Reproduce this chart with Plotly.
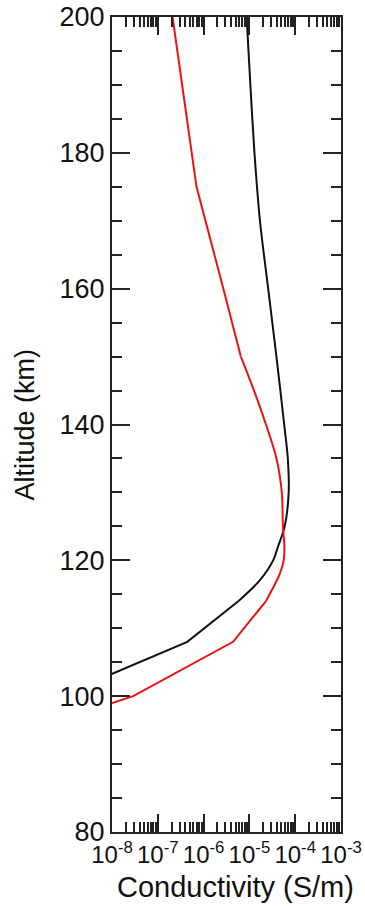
import plotly.graph_objects as go

# Altitude profiles of two conductivity components (S/m)
alt_black = [200, 190, 180, 170, 160, 150, 140, 135, 130, 125, 122, 120, 117, 114, 108, 103]
sig_black = [8.7e-6, 1.05e-5, 1.29e-5, 1.70e-5, 2.57e-5, 3.89e-5, 5.75e-5, 6.9e-5, 7.2e-5,
             5.9e-5, 4.2e-5, 3.3e-5, 1.66e-5, 5.8e-6, 4.4e-7, 7.9e-9]

alt_red = [200, 175, 160, 150, 145, 140, 135, 130, 125, 122, 120, 118, 114, 108, 100, 99]
sig_red = [2.1e-7, 7.0e-7, 2.7e-6, 6.5e-6, 1.26e-5, 2.3e-5, 3.9e-5, 5.1e-5, 5.4e-5,
           5.8e-5, 5.6e-5, 4.6e-5, 2.3e-5, 4.4e-6, 2.9e-8, 1.0e-8]

# Index ranges drawn as (start, end, shape); smooth sections use a spline
black_segments = [(0, 13, "spline"), (13, 15, "linear")]
red_segments = [(0, 3, "linear"), (3, 12, "spline"), (12, 15, "linear")]

x_tickvals = [1e-8, 1e-7, 1e-6, 1e-5, 1e-4, 1e-3]
x_ticktext = ["10<sup>-8</sup>", "10<sup>-7</sup>", "10<sup>-6</sup>",
              "10<sup>-5</sup>", "10<sup>-4</sup>", "10<sup>-3</sup>"]
y_tickvals = [80, 100, 120, 140, 160, 180, 200]

FONT = "Liberation Sans, Arial, Helvetica, sans-serif"

fig = go.Figure()


def add_profile(sig, alt, segments, color):
    for i0, i1, shape in segments:
        fig.add_trace(go.Scatter(
            x=sig[i0:i1 + 1], y=alt[i0:i1 + 1], mode="lines",
            line=dict(color=color, width=2, shape=shape, smoothing=0.9),
            showlegend=False, hoverinfo="x+y"))


add_profile(sig_black, alt_black, black_segments, "#111111")
add_profile(sig_red, alt_red, red_segments, "#ee1111")

axis_common = dict(
    showline=True, linewidth=2, linecolor="#222222", mirror="ticks",
    ticks="inside", ticklen=18, tickwidth=2, tickcolor="#222222",
    showgrid=False, zeroline=False, automargin=False,
)

fig.update_xaxes(
    type="log", range=[-8, -3],
    tickvals=x_tickvals, ticktext=x_ticktext, tickangle=0,
    tickfont=dict(family=FONT, size=24, color="#111111"),
    minor=dict(ticks="inside", ticklen=10, tickwidth=2, tickcolor="#222222",
               dtick="D1", showgrid=False),
    **axis_common,
)
fig.update_yaxes(
    range=[80, 200], tickvals=y_tickvals,
    tickfont=dict(family=FONT, size=27, color="#111111"),
    minor=dict(ticks="inside", ticklen=10, tickwidth=2, tickcolor="#222222",
               dtick=5, showgrid=False),
    **axis_common,
)

fig.add_annotation(text="Conductivity (S/m)", xref="paper", yref="paper",
                   x=(235 - 112) / 229, y=(832 - 887) / 815,
                   xanchor="center", yanchor="middle", showarrow=False,
                   font=dict(family=FONT, size=29, color="#111111"))
fig.add_annotation(text="Altitude (km)", xref="paper", yref="paper",
                   x=(24 - 112) / 229, y=0.5, textangle=-90,
                   xanchor="center", yanchor="middle", showarrow=False,
                   font=dict(family=FONT, size=27, color="#111111"))

fig.update_layout(
    width=365, height=906,
    margin=dict(l=112, r=24, t=17, b=74),
    paper_bgcolor="white", plot_bgcolor="white",
)

fig.write_html("out.html")
